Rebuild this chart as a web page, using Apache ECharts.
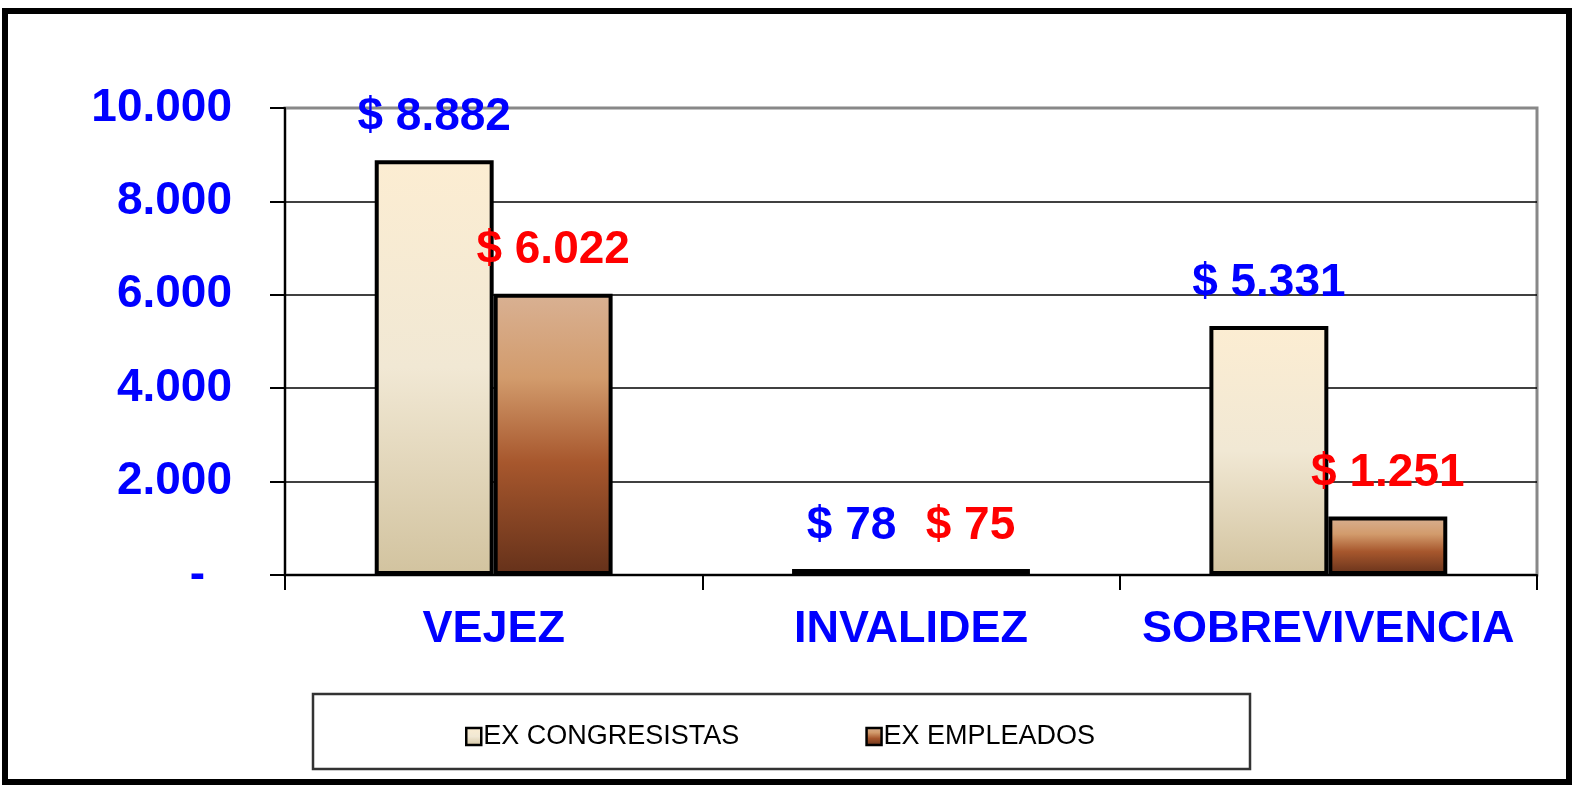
<!DOCTYPE html>
<html>
<head>
<meta charset="utf-8">
<script src="https://cdn.jsdelivr.net/npm/echarts@6/dist/echarts.min.js"></script>
<style>
html,body{margin:0;padding:0;background:#fff;}
#main{width:1575px;height:786px;}
</style>
</head>
<body>
<div id="main"></div>
<script>
const categories = ['VEJEZ', 'INVALIDEZ', 'SOBREVIVENCIA'];
const seriesNames = ['EX CONGRESISTAS', 'EX EMPLEADOS'];
const exCongresistas = [8882, 78, 5331];
const exEmpleados = [6022, 75, 1251];
const yTicks = [0, 2000, 4000, 6000, 8000, 10000];

const FONT = '"Liberation Sans", Arial, sans-serif';
function fmt(v) {
  return String(Math.round(v)).replace(/\B(?=(\d{3})+(?!\d))/g, '.');
}
// very short bars show only their black outline
function barData(arr) {
  return arr.map(function (v) {
    return v < 200 ? {value: v, itemStyle: {color: '#000'}} : v;
  });
}

const chart = echarts.init(document.getElementById('main'), null, {renderer: 'canvas'});

const gradCong = new echarts.graphic.LinearGradient(0, 0, 0, 1, [
  {offset: 0, color: '#FCEDD2'},
  {offset: 0.5, color: '#F1E8D4'},
  {offset: 1, color: '#D2C39F'}
]);
const gradEmp = new echarts.graphic.LinearGradient(0, 0, 0, 1, [
  {offset: 0, color: '#D9B193'},
  {offset: 0.3, color: '#D29B6C'},
  {offset: 0.6, color: '#A7572D'},
  {offset: 1, color: '#65311A'}
]);

chart.setOption({
  backgroundColor: '#fff',
  animation: false,
  grid: {
    left: 285, right: 38, top: 108, bottom: 211,
    show: true, borderColor: '#888', borderWidth: 3, backgroundColor: 'transparent'
  },
  xAxis: {
    type: 'category',
    data: categories,
    axisLine: {show: true, lineStyle: {color: '#000', width: 2}},
    axisTick: {show: true, length: 15, lineStyle: {color: '#000', width: 2}},
    axisLabel: {
      interval: 0, hideOverlap: false,
      margin: 32, color: '#0000FF', fontSize: 45, fontWeight: 'bold', fontFamily: FONT
    },
    z: 1
  },
  yAxis: {
    type: 'value',
    min: yTicks[0], max: yTicks[yTicks.length - 1], interval: 2000,
    axisLine: {show: true, lineStyle: {color: '#000', width: 2}},
    axisTick: {show: true, length: 15, lineStyle: {color: '#000', width: 2}},
    splitLine: {show: true, lineStyle: {color: ['#000', '#000', '#000', '#000', '#000', '#888'], width: 1.5}},
    axisLabel: {
      margin: 53, color: '#0000FF', fontSize: 46, fontWeight: 'bold', fontFamily: FONT,
      formatter: function (v) { return v === 0 ? '{d|-}' : fmt(v); },
      rich: {d: {padding: [0, 27, 0, 0], color: '#0000FF', fontSize: 46, fontWeight: 'bold', fontFamily: FONT}}
    },
    z: 1
  },
  legend: {
    left: 460, top: 718,
    itemWidth: 15, itemHeight: 17, itemGap: 126,
    icon: 'rect',
    textStyle: {color: '#000', fontSize: 27, fontFamily: FONT, padding: [0, 0, 0, -3]},
    itemStyle: {borderWidth: 2.5, borderColor: '#000'},
    data: seriesNames
  },
  series: [
    {
      name: seriesNames[0], type: 'bar', data: barData(exCongresistas), clip: false, z: 3,
      barGap: '0%', barCategoryGap: '43%', barMinHeight: 6,
      itemStyle: {color: gradCong, borderColor: '#000', borderWidth: 4},
      label: {
        show: true, position: 'top', distance: 20,
        color: '#0000FF', fontSize: 46, fontWeight: 'bold', fontFamily: FONT,
        formatter: function (p) { return '$ ' + fmt(p.value); }
      }
    },
    {
      name: seriesNames[1], type: 'bar', data: barData(exEmpleados), clip: false, z: 3,
      barGap: '0%', barCategoryGap: '43%', barMinHeight: 6,
      itemStyle: {color: gradEmp, borderColor: '#000', borderWidth: 4},
      label: {
        show: true, position: 'top', distance: 20,
        color: '#FF0000', fontSize: 46, fontWeight: 'bold', fontFamily: FONT,
        formatter: function (p) { return '$ ' + fmt(p.value); }
      }
    }
  ],
  graphic: [
    {type: 'rect', shape: {x: 5, y: 11, width: 1564, height: 771},
     style: {fill: 'none', stroke: '#000', lineWidth: 6}, z: 100, silent: true},
    {type: 'rect', shape: {x: 313, y: 694, width: 937, height: 75},
     style: {fill: 'none', stroke: '#333', lineWidth: 2.5}, z: 100, silent: true}
  ]
});
</script>
</body>
</html>
